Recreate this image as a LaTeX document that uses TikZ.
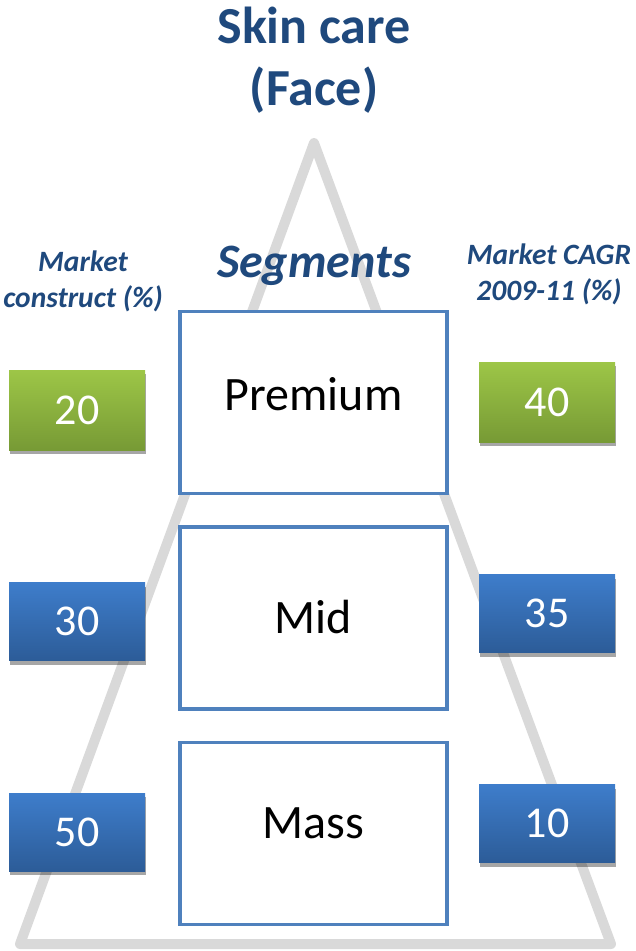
\documentclass[tikz,border=0pt]{standalone}
\usepackage{fontspec}
\setmainfont{Carlito}
\usepackage{tikz}
\usetikzlibrary{positioning,shadows}
\definecolor{cHead}{HTML}{1F497D}
\definecolor{cEdge}{HTML}{4F81BD}
\definecolor{cTri}{HTML}{D9D9D9}
\definecolor{cGrnTop}{HTML}{9DC647}
\definecolor{cGrnBot}{HTML}{779A35}
\definecolor{cBluTop}{HTML}{3E7DCB}
\definecolor{cBluBot}{HTML}{2C5C98}
\tikzset{
  seg/.style={draw=cEdge, line width=3.5pt, fill=white,
              minimum width=267pt, minimum height=182pt,
              font=\fontsize{48}{54}\selectfont, text=black},
  numbox/.style={minimum width=136pt, minimum height=78pt,
                 font=\fontsize{44}{50}\selectfont, text=white,
                 drop shadow={shadow xshift=1pt, shadow yshift=-4pt,
                              opacity=0.35, fill=black}},
  numgrn/.style={numbox, minimum height=80pt, top color=cGrnTop, bottom color=cGrnBot},
  numblu/.style={numbox, top color=cBluTop, bottom color=cBluBot},
  head/.style={text=cHead, align=center, font=\bfseries\itshape\fontsize{29.5}{36}\selectfont}
}
\begin{document}
\begin{tikzpicture}[x=1pt, y=-1pt]
  \useasboundingbox (0,0) rectangle (636,951);

  % --- pyramid outline ---
  \draw[cTri, line width=10pt, line join=round] (314,143) -- (611,944) -- (20,944) -- cycle;

  % --- title ---
  \node[text=cHead, align=center, font=\bfseries\fontsize{52}{62}\selectfont] (title)
       at (314,60) {Skin care\\(Face)};

  % --- column headings ---
  \node[head, font=\bfseries\itshape\fontsize{48}{54}\selectfont] (seghead) at (314,266) {Segments};
  \node[head] (lefthead) at (83,281) {Market\\construct (\%)};
  \node[head] (righthead) at (549,274) {Market CAGR\\2009-11 (\%)};

  % --- segments ---
  \node[seg] (prem) at (313.5,402.5) {\raisebox{17pt}{Premium}};
  \node[seg, below=30pt of prem] (mid) {\raisebox{3pt}{Mid}};
  \node[seg, below=30pt of mid] (mass) {\raisebox{20pt}{Mass}};

  % --- market construct ---
  \node[numgrn] (cprem) at (77,410) {20};
  \node[numblu] (cmid) at (77,621.5) {30};
  \node[numblu] (cmass) at (77,832) {50};

  % --- growth ---
  \node[numgrn] (gprem) at (547,402) {40};
  \node[numblu] (gmid) at (547,613.5) {35};
  \node[numblu] (gmass) at (547,823.5) {10};
\end{tikzpicture}
\end{document}
